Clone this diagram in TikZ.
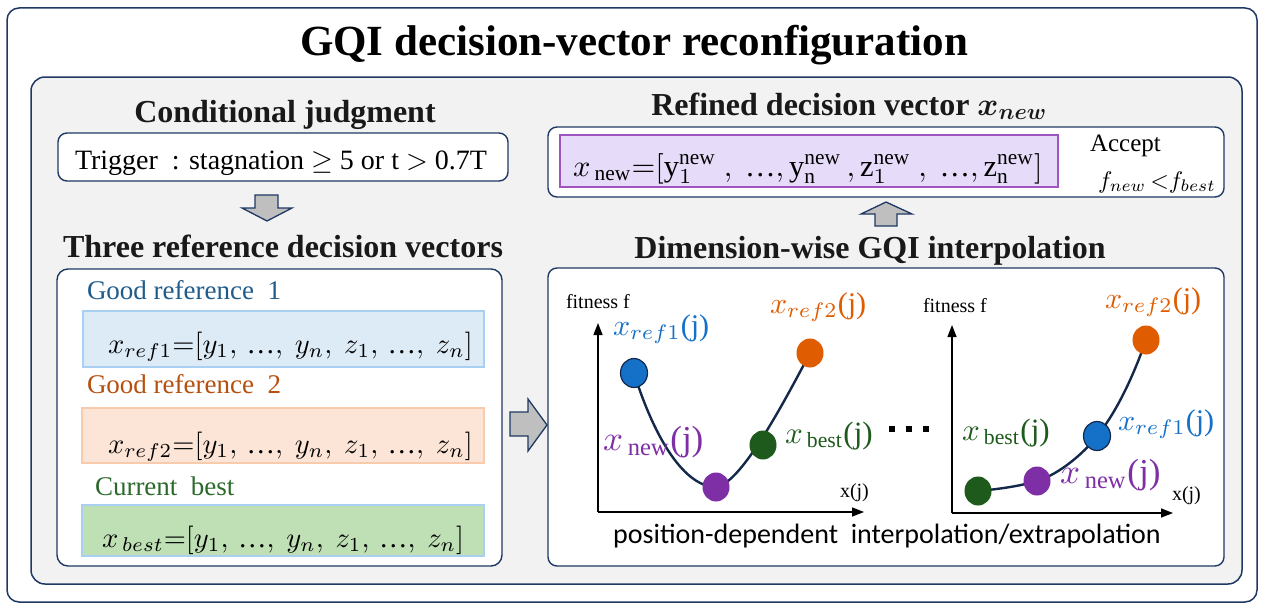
\RequirePackage{fix-cm}
\documentclass[tikz,border=0pt]{standalone}
\usepackage{bm}
\usepackage{graphicx}
\usepackage{fontspec}
\setmainfont{Liberation Serif}
\newfontfamily\calib{Carlito}
\usetikzlibrary{shapes.geometric,arrows.meta}
\definecolor{navy}{HTML}{1F3864}
\definecolor{bgray}{HTML}{F2F2F2}
\definecolor{arrgray}{HTML}{BFBFBF}
\definecolor{lblue}{HTML}{DDEBF7}
\definecolor{lblueb}{HTML}{A9D0F0}
\definecolor{lorange}{HTML}{FCE4D6}
\definecolor{lorangeb}{HTML}{F8CBAD}
\definecolor{lgreen}{HTML}{BFE0B5}
\definecolor{lpurple}{HTML}{E6DCF9}
\definecolor{purpleb}{HTML}{9E55C0}
\definecolor{refblue}{HTML}{1F5C8B}
\definecolor{refbrown}{HTML}{B5500E}
\definecolor{refgreen}{HTML}{2B6A2B}
\definecolor{dotblue}{HTML}{1570C8}
\definecolor{dotorange}{HTML}{E05C00}
\definecolor{dotgreen}{HTML}{1E5A1C}
\definecolor{dotpurple}{HTML}{7E2FA6}
\definecolor{curvec}{HTML}{14284A}
\newcommand{\fs}[1]{\fontsize{#1}{#1}\selectfont}
\newcommand{\T}[2]{\scalebox{#1}{\fontsize{10}{12}\selectfont #2}}
\newcommand{\el}{\mbox{…}}
\tikzset{
  every node/.style={inner sep=0pt, outer sep=0pt},
  frame/.style={draw=navy, line width=1.5pt, rounded corners=12pt},
  wbox/.style={draw=navy, line width=1.4pt, fill=white, rounded corners=9pt},
  vbox/.style={line width=1.3pt},
  head/.style={font=\fs{32}\bfseries, anchor=base, text=black!90},
  lab/.style={anchor=base west},
  blockarr/.style={draw=navy, fill=arrgray, line width=1.3pt, line join=miter},
  axis/.style={line width=1.4pt, -{Triangle[length=12pt,width=9pt]}},
  crv/.style={draw=curvec, line width=2.4pt},
  dot/.style={ellipse, minimum width=27pt, minimum height=29pt, inner sep=0pt},
  bigdot/.style={fill=black},
}
\begin{document}
\begin{tikzpicture}[x=1pt,y=-1pt]
\useasboundingbox (0,0) rectangle (1265,610);
% frames
\draw[frame, fill=white] (7,8) rectangle (1257,602);
\draw[frame, fill=bgray, rounded corners=14pt] (31,77) rectangle (1242,584);
\node (title) [font=\fs{43}\bfseries, anchor=base] at (634,56) {GQI decision-vector reconfiguration};

% left column
\node (hcond) [head] at (285,122) {Conditional judgment};
\draw[wbox] (58,133) rectangle (508,181);
\node (trig) [lab] at (75,169) {\T{2.8}{Trigger\ \ : stagnation $\geq$ 5 or t $>$ 0.7T}};
\draw[blockarr] (255,195) -- (278,195) -- (278,208) -- (292,208) -- (267,221) -- (242,208) -- (255,208) -- cycle;
\node (hthree) [head] at (283,257) {Three reference decision vectors};
\draw[wbox, rounded corners=11pt] (57,269) rectangle (502,566);
\node (g1) [lab, text=refblue] at (87,299) {\T{2.7}{Good reference\ \ 1}};
\draw[vbox, fill=lblue, draw=lblueb] (83,311) rectangle (484,367);
\node (v1) [lab] at (108,353) {\T{2.85}{$x_{ref1}{=}[y_1,\,\el,\ y_n,\ z_1,\,\el,\ z_n]$}};
\node (g2) [lab, text=refbrown] at (87,393) {\T{2.7}{Good reference\ \ 2}};
\draw[vbox, fill=lorange, draw=lorangeb] (82,408) rectangle (484,463);
\node (v2) [lab] at (108,453) {\T{2.85}{$x_{ref2}{=}[y_1,\,\el,\ y_n,\ z_1,\,\el,\ z_n]$}};
\node (g3) [lab, text=refgreen] at (95,495) {\T{2.7}{Current\ \ best}};
\draw[vbox, fill=lgreen, draw=lblueb] (82,505) rectangle (484,556);
\node (v3) [lab] at (102,547) {\T{2.85}{$x_{\,best}{=}[y_1,\,\el,\ y_n,\ z_1,\,\el,\ z_n]$}};

% right arrow
\draw[blockarr] (510,412) -- (528,412) -- (528,399) -- (547,425) -- (528,451) -- (528,436) -- (510,436) -- cycle;

% top right
\node (hrefined) [head] at (849,115) {Refined decision vector $\bm{x_{new}}$};
\draw[wbox] (548,127) rectangle (1224,197);
\draw[vbox, fill=lpurple, draw=purpleb] (560,135) rectangle (1058,187);
\node (vnew) [lab] at (573,176) {\T{3.05}{$x_{\,\mathrm{new}}{=}[\mathrm{y}_1^{\mathrm{new}}\ ,\ \el,\mathrm{y}_{\mathrm{n}}^{\mathrm{new}}\,,\mathrm{z}_1^{\mathrm{new}}\ ,\ \el,\mathrm{z}_{\mathrm{n}}^{\mathrm{new}}]$}};
\node (acc) [lab] at (1090,151) {\T{2.5}{Accept}};
\node (cond) [lab] at (1098,188) {\T{2.4}{$f_{new}\,{<}f_{best}$}};
\draw[blockarr] (875,226) -- (897,226) -- (897,214) -- (912,214) -- (886,202) -- (861,214) -- (875,214) -- cycle;
\node (hdim) [head] at (870,258) {Dimension-wise GQI interpolation};
\draw[wbox] (548,268) rectangle (1224,566);

% left plot
\coordinate (o1) at (598,512);
\draw[axis] (o1) -- (598,323);
\draw[axis] (o1) -- (864,512);
\node (fa) [lab] at (566,308) {\T{2}{fitness f}};
\node (xa) [lab] at (840,497) {\T{2}{x(j)}};
\coordinate (pr1) at (634,373);
\coordinate (pn) at (716,487);
\coordinate (pb) at (763,445);
\coordinate (pr2) at (810,353);
\draw[crv] (pr1) .. controls (655,440) and (685,487) .. (pn) .. controls (740,484) and (780,410) .. (pr2);
\node (d1) [dot, fill=dotblue, draw=curvec, line width=1.2pt] at (pr1) {};
\node (d2) [dot, fill=dotpurple] at (pn) {};
\node (d3) [dot, fill=dotgreen] at (pb) {};
\node (d4) [dot, fill=dotorange] at (pr2) {};
\node (l1) [lab, text=dotblue] at (613,335) {\T{3}{$x_{ref1}$(j)}};
\node (l2) [lab, text=dotorange] at (770,313) {\T{3}{$x_{ref2}$(j)}};
\node (l3) [lab, text=dotpurple] at (603,450) {\T{3.5}{$x_{\,\mathrm{new}}$(j)}};
\node (l4) [lab, text=dotgreen] at (785,443) {\T{3.1}{$x_{\,\mathrm{best}}$(j)}};
\fill[bigdot] (889,426) rectangle +(6,6);
\fill[bigdot] (906,426) rectangle +(6,6);
\fill[bigdot] (923,426) rectangle +(6,6);

% right plot
\coordinate (o2) at (952,513);
\draw[axis] (o2) -- (952,325);
\draw[axis] (o2) -- (1173,513);
\node (fb) [lab] at (923,312) {\T{2}{fitness f}};
\node (xb) [lab] at (1172,500) {\T{2}{x(j)}};
\coordinate (qb) at (978,491);
\coordinate (qn) at (1037,481);
\coordinate (qr1) at (1097,436);
\coordinate (qr2) at (1146,340);
\draw[crv] (qb) .. controls (1000,489) and (1020,486) .. (qn) .. controls (1060,474) and (1085,452) .. (qr1) .. controls (1115,414) and (1132,380) .. (qr2);
\node (e1) [dot, fill=dotgreen] at (qb) {};
\node (e2) [dot, fill=dotpurple] at (qn) {};
\node (e3) [dot, fill=dotblue, draw=curvec, line width=1.2pt] at (qr1) {};
\node (e4) [dot, fill=dotorange] at (qr2) {};
\node (m1) [lab, text=dotorange] at (1105,308) {\T{3}{$x_{ref2}$(j)}};
\node (m2) [lab, text=dotblue] at (1118,430) {\T{3}{$x_{ref1}$(j)}};
\node (m3) [lab, text=dotgreen] at (962,440) {\T{3.1}{$x_{\,\mathrm{best}}$(j)}};
\node (m4) [lab, text=dotpurple] at (1060,483) {\T{3.5}{$x_{\,\mathrm{new}}$(j)}};

\node (cap) [font=\calib\fs{28}, anchor=base] at (887,543) {position-dependent\ \ interpolation/extrapolation};
\end{tikzpicture}
\end{document}
